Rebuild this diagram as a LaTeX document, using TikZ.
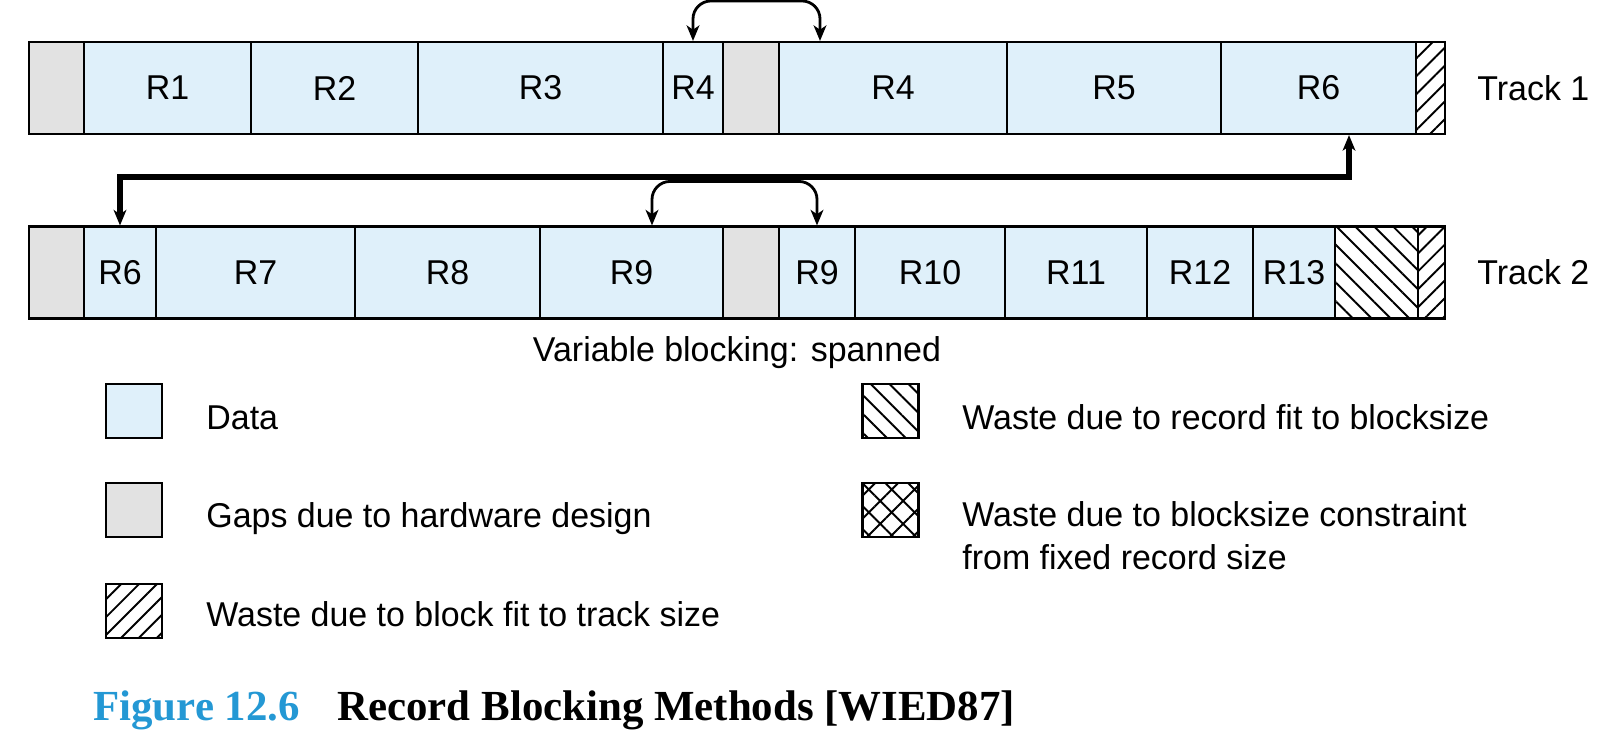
\documentclass[tikz,border=0pt]{standalone}
\usepackage{fontspec}
\setmainfont{Liberation Serif}
\setsansfont{Liberation Sans}[FakeStretch=0.985]
\usetikzlibrary{arrows.meta,patterns.meta}
\definecolor{datablue}{RGB}{223,240,250}
\definecolor{gapgray}{RGB}{226,226,226}
\definecolor{figblue}{RGB}{36,152,212}

\begin{document}
\begin{tikzpicture}[font=\sffamily\fontsize{9.8}{12}\selectfont, >={Stealth[length=4.4pt,width=3.6pt,inset=1.2pt]},
data/.style={draw, line width=0.6pt, fill=datablue, minimum height=9.2mm, inner sep=0pt},
gap/.style={draw, line width=0.6pt, fill=gapgray, minimum height=9.2mm, inner sep=0pt},
trackwaste/.style={draw, line width=0.6pt, pattern={Lines[angle=45,distance=3.6pt,line width=0.55pt]}, minimum height=9.2mm, inner sep=0pt},
recwaste/.style={draw, line width=0.6pt, pattern={Lines[angle=-45,distance=3.8pt,line width=0.55pt]}, minimum height=9.2mm, inner sep=0pt},
fixwaste/.style={draw, line width=0.6pt, pattern={Hatch[angle=45,distance=4.6pt,line width=0.55pt]}, inner sep=0pt},
key/.style={minimum width=5.6mm, minimum height=5.4mm},
hop/.style={<->, line width=0.8pt, rounded corners=1.8mm},
link/.style={<->, line width=1.5pt}]
\useasboundingbox (0,0) rectangle (16.14,-7.41);

% track 1
\node[gap, minimum width=5.5mm] (g1a) at (0.565,-0.88) {};
\node[data, minimum width=16.7mm] (r1) at (1.675,-0.88) {R1};
\node[data, minimum width=16.7mm] (r2) at (3.345,-0.88) {R2};
\node[data, minimum width=24.5mm] (r3) at (5.405,-0.88) {R3};
\node[data, minimum width=6mm] (r4a) at (6.93,-0.88) {R4};
\node[gap, minimum width=5.6mm] (g1b) at (7.51,-0.88) {};
\node[data, minimum width=22.8mm] (r4b) at (8.93,-0.88) {R4};
\node[data, minimum width=21.4mm] (r5) at (11.14,-0.88) {R5};
\node[data, minimum width=19.5mm] (r6a) at (13.185,-0.88) {R6};
\node[trackwaste, minimum width=2.9mm] (w1) at (14.305,-0.88) {};
\node[anchor=west] (t1) at (14.65,-0.88) {Track 1};

% track 2
\node[gap, minimum width=5.5mm] (g2a) at (0.565,-2.725) {};
\node[data, minimum width=7.2mm] (r6b) at (1.20,-2.725) {R6};
\node[data, minimum width=19.9mm] (r7) at (2.555,-2.725) {R7};
\node[data, minimum width=18.5mm] (r8) at (4.475,-2.725) {R8};
\node[data, minimum width=18.3mm] (r9a) at (6.315,-2.725) {R9};
\node[gap, minimum width=5.6mm] (g2b) at (7.51,-2.725) {};
\node[data, minimum width=7.6mm] (r9b) at (8.17,-2.725) {R9};
\node[data, minimum width=15mm] (r10) at (9.30,-2.725) {R10};
\node[data, minimum width=14.2mm] (r11) at (10.76,-2.725) {R11};
\node[data, minimum width=10.6mm] (r12) at (12.00,-2.725) {R12};
\node[data, minimum width=8.2mm] (r13) at (12.94,-2.725) {R13};
\node[recwaste, minimum width=8.3mm] (w2) at (13.765,-2.725) {};
\node[trackwaste, minimum width=2.7mm] (w3) at (14.315,-2.725) {};
\node[anchor=west] (t2) at (14.65,-2.725) {Track 2};

\draw[hop] (r4a.north) -- ++(0,0.40) -| ([xshift=-7.3mm]r4b.north);
\draw[hop] ([xshift=2.05mm]r9a.north) -- ++(0,0.44) -| (r9b.north);
\draw[link] ([xshift=3.05mm]r6a.south) -- ++(0,-0.42) -| (r6b.north);

\node (sub) at (7.37,-3.53) {Variable blocking: spanned};

% legend
\node[data, key] (kdata) at (1.34,-4.11) {};
\node[gap, key] (kgap) at (1.34,-5.10) {};
\node[trackwaste, key] (ktrack) at (1.34,-6.11) {};
\node[recwaste, key] (krec) at (8.905,-4.11) {};
\node[fixwaste, key] (kfix) at (8.905,-5.10) {};
\node[anchor=base west] (ldata) at (1.94,-4.29) {Data};
\node[anchor=base west] (lgap) at (1.94,-5.27) {Gaps due to hardware design};
\node[anchor=base west] (ltrack) at (1.94,-6.26) {Waste due to block fit to track size};
\node[anchor=base west] (lrec) at (9.50,-4.29) {Waste due to record fit to blocksize};
\node[anchor=base west, align=left] (lfix) at (9.50,-5.69) {Waste due to blocksize constraint\\from fixed record size};

% caption
\node[anchor=base west, font=\rmfamily\bfseries\fontsize{12.2}{14}\selectfont, text=figblue] (fig) at (0.81,-7.20) {Figure 12.6};
\node[anchor=base west, font=\rmfamily\bfseries\fontsize{12.2}{14}\selectfont] (title) at (3.25,-7.20) {Record Blocking Methods [WIED87]};
\end{tikzpicture}
\end{document}
